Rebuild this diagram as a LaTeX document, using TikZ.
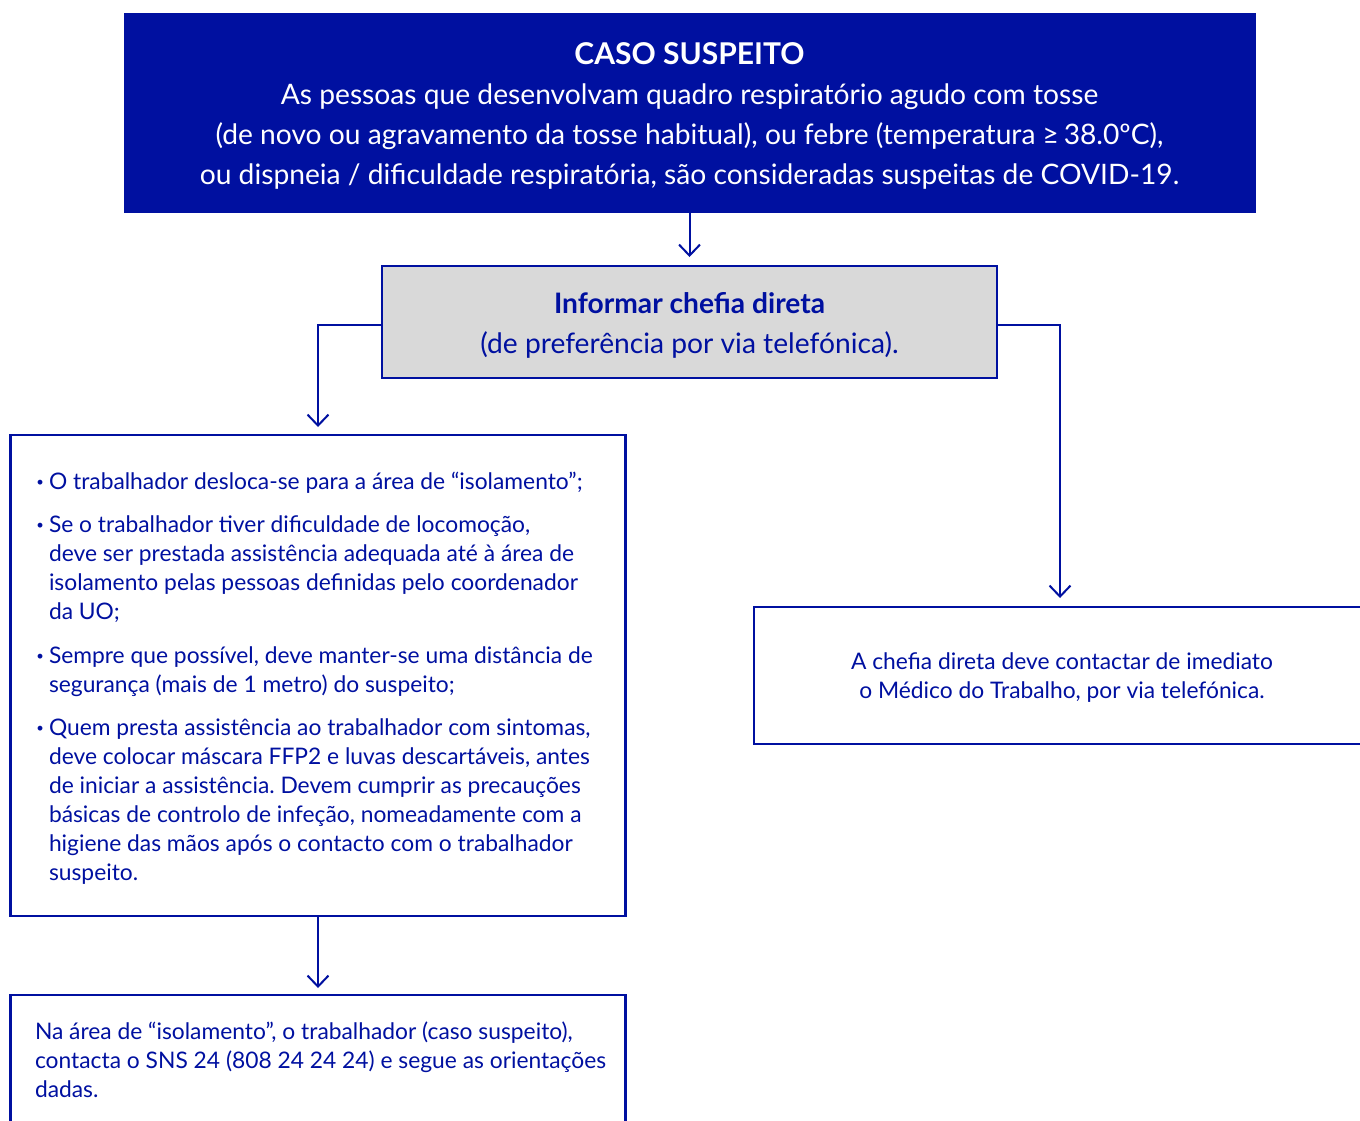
\documentclass[tikz,border=0pt]{standalone}
\usepackage{fontspec}
\setmainfont{Lato}
\usetikzlibrary{arrows.meta}
\definecolor{cblue}{RGB}{0,16,160}
\definecolor{cgray}{RGB}{217,217,217}
\newcommand{\bul}{\makebox[0pt][r]{\raisebox{0.25ex}{\fontsize{6.5pt}{7pt}\selectfont •}\hspace{2.5pt}}}
\frenchspacing
\begin{document}
\begin{tikzpicture}[x=0.5pt,y=-0.5pt,
  frame/.style={draw=cblue, line width=1.25pt, inner sep=0pt, outer sep=0pt},
  conn/.style={draw=cblue, line width=1pt, -{Straight Barb[length=5.5pt,width=10.5pt,line width=1pt]}},
  bodytxt/.style={text=cblue, font=\fontsize{11.4pt}{14.5pt}\selectfont, inner sep=0pt, outer sep=0pt},
  bigtxt/.style={font=\fontsize{14.1pt}{20pt}\selectfont, inner sep=0pt, outer sep=0pt, align=center}]
\useasboundingbox (0,0) rectangle (1360,1120);
% boxes
\node[fill=cblue, draw=cblue, line width=0.5pt, inner sep=0pt, minimum width=565.5pt, minimum height=99.5pt] (top) at (689.5,112.5) {};
\node[frame, fill=cgray, minimum width=307.5pt, minimum height=56pt] (gray) at (689.5,322) {};
\node[frame, minimum width=307.5pt, minimum height=240.5pt] (left) at (318,675.5) {};
\node[frame, minimum width=306pt, minimum height=68.5pt] (right) at (1060,675.5) {};
\node[frame, minimum width=307.5pt, minimum height=75pt] (bottom) at (318,1070) {};
% texts (base anchor = baseline of the last line)
\node[bigtxt, text=white, anchor=base] (toptxt) at (689.5,184) {{\fontsize{15pt}{20pt}\selectfont\bfseries CASO SUSPEITO}\\
As pessoas que desenvolvam quadro respiratório agudo com tosse\\
(de novo ou agravamento da tosse habitual), ou febre (temperatura ≥\,38.0ºC),\\
ou dispneia / dificuldade respiratória, são consideradas suspeitas de COVID-19.};
\node[bigtxt, text=cblue, anchor=base] (graytxt) at (689.5,353) {\textbf{Informar chefia direta}\\
(de preferência por via telefónica).};
\node[bodytxt, align=left, anchor=base west] (b1) at (49,489) {\bul O trabalhador desloca-se para a área de “isolamento”;};
\node[bodytxt, align=left, anchor=base west] (b2) at (49,619) {\bul Se o trabalhador tiver dificuldade de locomoção,\\
deve ser prestada assistência adequada até à área de\\
isolamento pelas pessoas definidas pelo coordenador\\
da UO;};
\node[bodytxt, align=left, anchor=base west] (b3) at (49,692) {\bul Sempre que possível, deve manter-se uma distância de\\
segurança (mais de 1 metro) do suspeito;};
\node[bodytxt, align=left, anchor=base west] (b4) at (49,880) {\bul Quem presta assistência ao trabalhador com sintomas,\\
deve colocar máscara FFP2 e luvas descartáveis, antes\\
de iniciar a assistência. Devem cumprir as precauções\\
básicas de controlo de infeção, nomeadamente com a\\
higiene das mãos após o contacto com o trabalhador\\
suspeito.};
\node[bodytxt, align=center, anchor=base] (righttxt) at (1062,698) {A chefia direta deve contactar de imediato\\
o Médico do Trabalho, por via telefónica.};
\node[bodytxt, align=left, anchor=base west] (bottomtxt) at (35,1097) {Na área de “isolamento”, o trabalhador (caso suspeito),\\
contacta o SNS 24 (808 24 24 24) e segue as orientações\\
dadas.};
% connectors
\draw[conn, shorten >=4.5pt] (top.south) -- (gray.north);
\draw[conn, shorten >=4pt] ([yshift=-1.5pt]gray.west) -| (left.north);
\draw[conn, shorten >=4.5pt] ([yshift=-1.5pt]gray.east) -| (right.north);
\draw[conn, shorten >=3.5pt] (left.south) -- (bottom.north);
\end{tikzpicture}
\end{document}
